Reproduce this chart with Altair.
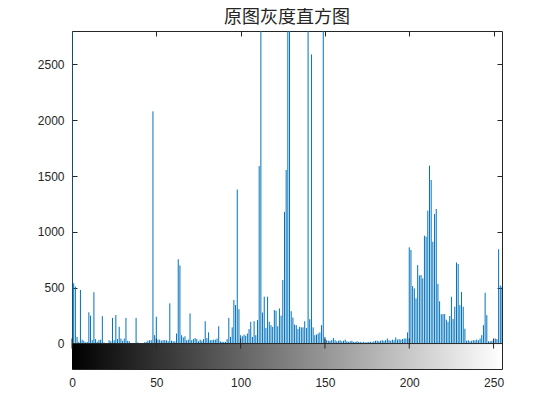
import altair as alt
import pandas as pd

# gray levels and histogram counts
levels = list(range(256))
counts = [
    6000, 540, 510, 60, 15, 480, 35, 25, 10, 15,
    280, 250, 30, 460, 40, 15, 30, 35, 245, 10,
    5, 0, 30, 20, 230, 30, 255, 40, 150, 45,
    25, 45, 230, 25, 20, 5, 0, 5, 230, 10,
    5, 0, 0, 10, 15, 25, 30, 30, 2080, 75,
    240, 35, 35, 25, 30, 30, 30, 20, 360, 25,
    20, 20, 90, 755, 700, 75, 55, 65, 30, 35,
    270, 30, 40, 50, 40, 20, 35, 25, 40, 200,
    50, 100, 30, 30, 35, 35, 45, 155, 20, 15,
    15, 15, 40, 230, 60, 145, 390, 345, 1380, 308,
    75, 65, 80, 70, 90, 130, 195, 60, 200, 75,
    210, 1590, 3500, 278, 420, 140, 420, 195, 165, 150,
    300, 295, 155, 315, 250, 570, 1180, 1555, 3500, 3500,
    290, 233, 170, 165, 130, 150, 145, 145, 200, 140,
    3500, 218, 2590, 145, 75, 80, 90, 100, 165, 3500,
    60, 30, 25, 25, 30, 50, 30, 20, 25, 30,
    20, 25, 35, 20, 15, 20, 25, 15, 15, 20,
    15, 15, 10, 15, 10, 12, 15, 15, 12, 20,
    25, 25, 20, 25, 30, 25, 30, 45, 30, 25,
    35, 30, 55, 35, 40, 35, 40, 45, 45, 100,
    862, 838, 515, 494, 405, 703, 610, 614, 584, 966,
    957, 1190, 1593, 1465, 912, 1160, 1205, 535, 378, 263,
    264, 264, 214, 195, 247, 419, 220, 330, 726, 712,
    345, 461, 330, 133, 25, 30, 20, 25, 30, 28,
    35, 30, 45, 75, 165, 455, 255, 20, 20, 25,
    20, 45, 40, 845, 520, 510,
]
x_ticks = [0, 50, 100, 150, 200, 250]
y_ticks = [0, 500, 1000, 1500, 2000, 2500]
cbar_tick = [-118]
Y_MAX = 2800
Y_MIN = -228

title_text = "原图灰度直方图"

df = pd.DataFrame({"level": levels, "count": counts})

xs = alt.Scale(domain=[levels[0], levels[-1]], nice=False, zero=False)
ys = alt.Scale(domain=[Y_MIN, Y_MAX], nice=False, zero=False)

INK = "#262626"
common = dict(tickSize=5, offset=-5, domain=False, tickColor=INK,
              labelColor=INK, labelFont="Liberation Sans", labelFontSize=12,
              grid=False, tickWidth=1, title=None, labelFlush=False,
              format="d")

cbar_df = pd.DataFrame({"lo": [levels[0]], "hi": [levels[-1]],
                        "bottom": [Y_MIN], "top": [0]})
cbar = alt.Chart(cbar_df).mark_rect(
    color=alt.Gradient(
        gradient="linear",
        stops=[alt.GradientStop(color="#000000", offset=0),
               alt.GradientStop(color="#ffffff", offset=1)],
        x1=0, x2=1, y1=0, y2=0,
    )
).encode(
    x=alt.X("lo:Q", scale=xs, axis=alt.Axis(values=x_ticks, orient="bottom",
                                             labelPadding=8, **common)),
    x2="hi:Q",
    y=alt.Y("bottom:Q", scale=ys,
            axis=alt.Axis(values=cbar_tick + y_ticks, orient="left",
                          labelPadding=8,
                          labelExpr="datum.value < 0 ? '' : datum.label",
                          **common)),
    y2="top:Q",
)

hist = alt.Chart(df).mark_rule(color="#0072BD", strokeWidth=1, clip=True).encode(
    x=alt.X("level:Q", scale=xs, axis=alt.Axis(values=x_ticks, orient="top",
                                                labels=False, **common)),
    y=alt.Y("count:Q", scale=ys,
            axis=alt.Axis(values=cbar_tick + y_ticks, orient="right",
                          labels=False, **common)),
    y2=alt.datum(0),
)

zl_df = pd.DataFrame({"lo": [levels[0]], "hi": [levels[-1]], "y": [0]})
zero_line = alt.Chart(zl_df).mark_rule(color=INK, strokeWidth=1).encode(
    x=alt.X("lo:Q", scale=xs, axis=None), x2="hi:Q",
    y=alt.Y("y:Q", scale=ys, axis=None),
)

tick_len = 45
tk_df = pd.DataFrame({"t": x_ticks})
tk_df["lo"] = -tick_len
tk_df["hi"] = tick_len
zero_ticks = alt.Chart(tk_df).mark_rule(color=INK, strokeWidth=1).encode(
    x=alt.X("t:Q", scale=xs, axis=None),
    y=alt.Y("lo:Q", scale=ys, axis=None), y2="hi:Q",
)

chart = alt.layer(cbar, hist, zero_line, zero_ticks).resolve_axis(
    x="independent", y="independent"
).properties(
    width=430, height=338,
    autosize=alt.AutoSizeParams(type="none"),
    padding={"left": 64, "top": 23, "right": 40, "bottom": 30},
    title=alt.TitleParams(text=title_text, font="Noto Sans CJK SC",
                          fontSize=18, fontWeight="normal", color=INK,
                          anchor="middle", offset=4),
).configure_view(stroke=INK, strokeWidth=1)

chart.save("out.html", embed_options={"renderer": "svg", "actions": False})
